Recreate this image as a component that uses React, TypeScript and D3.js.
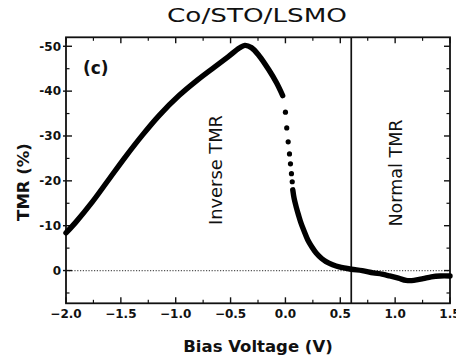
import React, { useEffect } from "react";
import * as d3 from "d3";

const W = 456;
const H = 364;

// Continuous (dense) part before the gap
const biasLeft = [-2.0, -1.91, -1.76, -1.61, -1.46, -1.3, -1.15, -0.97, -0.8, -0.65, -0.52, -0.42, -0.37, -0.31, -0.24, -0.15, -0.08, -0.025];
const tmrLeft = [-8.4, -10.8, -15.3, -20.3, -25.3, -30.3, -34.6, -39.0, -42.5, -45.3, -47.7, -49.6, -50.2, -49.7, -47.9, -44.7, -41.8, -39.0];

// Sparse individual points on the steep drop
const biasDots = [0.0, 0.012, 0.025, 0.037, 0.046, 0.055, 0.062];
const tmrDots = [-35.3, -31.8, -28.7, -26.0, -23.8, -21.6, -19.8];

// Continuous part after the drop
const biasRight = [0.067, 0.08, 0.098, 0.12, 0.143, 0.17, 0.204, 0.24, 0.28, 0.33, 0.37, 0.43, 0.49, 0.6, 0.7, 0.8, 0.88, 0.95, 1.03, 1.1, 1.17, 1.255, 1.33, 1.41, 1.5];
const tmrRight = [-18.0, -16.0, -14.2, -12.3, -10.5, -8.8, -6.8, -5.3, -3.9, -2.7, -2.0, -1.3, -0.8, -0.3, 0.0, 0.5, 0.8, 1.2, 1.7, 2.2, 2.2, 1.8, 1.4, 1.2, 1.2];

const xMajor = [-2.0, -1.5, -1.0, -0.5, 0.0, 0.5, 1.0, 1.5];
const xMinor = [-1.75, -1.25, -0.75, -0.25, 0.25, 0.75, 1.25];
const yMajor = [-50, -40, -30, -20, -10, 0];
const yMinor = [-45, -35, -25, -15, -5, 5];

const boundaryV = 0.6;

const title = "Co/STO/LSMO";
const xLabel = "Bias Voltage (V)";
const yLabel = "TMR (%)";
const panelLabel = "(c)";
const inverseLabel = "Inverse TMR";
const normalLabel = "Normal TMR";

const FONT = "'DejaVu Sans', Verdana, sans-serif";

export default function App() {
  useEffect(() => {
    document.body.style.margin = "0";
  }, []);

  const left = 66;
  const right = 450;
  const top = 37.3;
  const bottom = 303.3;

  const x = d3.scaleLinear().domain([-2.0, 1.5]).range([left, right]);
  const y = d3.scaleLinear().domain([7.3, -52]).range([bottom, top]);

  const line = d3
    .line<[number, number]>()
    .x((d) => x(d[0]))
    .y((d) => y(d[1]))
    .curve(d3.curveCatmullRom.alpha(0.5));

  const leftPts: [number, number][] = biasLeft.map((v, i) => [v, tmrLeft[i]]);
  const rightPts: [number, number][] = biasRight.map((v, i) => [v, tmrRight[i]]);

  const fmt = d3.format(".1f");

  return (
    <svg
      width={W}
      height={H}
      viewBox={`0 0 ${W} ${H}`}
      style={{ display: "block", position: "absolute", left: 0, top: 0, background: "#fff" }}
      fontFamily={FONT}
    >
      <rect x={0} y={0} width={W} height={H} fill="#fff" />
      {/* title */}
      <text x={257} y={22} textAnchor="middle" fontSize={19} textLength={180} lengthAdjust="spacingAndGlyphs" fill="#111">
        {title}
      </text>

      {/* zero dotted line */}
      <line x1={left} x2={right} y1={y(0)} y2={y(0)} stroke="#555" strokeWidth={1.2} strokeDasharray="1.2,1.6" />

      {/* boundary line */}
      <line x1={x(boundaryV)} x2={x(boundaryV)} y1={top} y2={bottom} stroke="#111" strokeWidth={1.7} />

      {/* ticks bottom/top */}
      {xMajor.map((v) => (
        <g key={"xM" + v}>
          <line x1={x(v)} x2={x(v)} y1={bottom} y2={bottom - 6} stroke="#111" strokeWidth={1.4} />
          <line x1={x(v)} x2={x(v)} y1={top} y2={top + 6} stroke="#111" strokeWidth={1.4} />
          <text x={x(v)} y={317.5} textAnchor="middle" fontSize={12} fontWeight="bold" fill="#111">
            {fmt(v)}
          </text>
        </g>
      ))}
      {xMinor.map((v) => (
        <g key={"xm" + v}>
          <line x1={x(v)} x2={x(v)} y1={bottom} y2={bottom - 3.5} stroke="#111" strokeWidth={1.2} />
          <line x1={x(v)} x2={x(v)} y1={top} y2={top + 3.5} stroke="#111" strokeWidth={1.2} />
        </g>
      ))}

      {/* ticks left/right */}
      {yMajor.map((v) => (
        <g key={"yM" + v}>
          <line x1={left - 3} x2={left + 6} y1={y(v)} y2={y(v)} stroke="#111" strokeWidth={1.4} />
          <line x1={right} x2={right - 6} y1={y(v)} y2={y(v)} stroke="#111" strokeWidth={1.4} />
          <text x={61} y={y(v) + 4.3} textAnchor="end" fontSize={12} fontWeight="bold" fill="#111">
            {String(v)}
          </text>
        </g>
      ))}
      {yMinor.map((v) => (
        <g key={"ym" + v}>
          <line x1={left} x2={left + 3.5} y1={y(v)} y2={y(v)} stroke="#111" strokeWidth={1.2} />
          <line x1={right} x2={right - 3.5} y1={y(v)} y2={y(v)} stroke="#111" strokeWidth={1.2} />
        </g>
      ))}

      {/* frame */}
      <rect x={left} y={top} width={right - left} height={bottom - top} fill="none" stroke="#111" strokeWidth={1.8} />

      {/* data */}
      <path d={line(leftPts) || ""} fill="none" stroke="#000" strokeWidth={5.4} strokeLinecap="round" strokeLinejoin="round" />
      <path d={line(rightPts) || ""} fill="none" stroke="#000" strokeWidth={5.4} strokeLinecap="round" strokeLinejoin="round" />
      {biasDots.map((v, i) => (
        <circle key={"d" + i} cx={x(v)} cy={y(tmrDots[i])} r={2.6} fill="#000" />
      ))}

      {/* annotations */}
      <text x={83} y={74} fontSize={17} fontWeight="bold" fill="#111">
        {panelLabel}
      </text>
      <text
        transform={`translate(221.5,225) rotate(-90)`}
        fontSize={17.5}
        textLength={110}
        lengthAdjust="spacingAndGlyphs"
        fill="#111"
      >
        {inverseLabel}
      </text>
      <text
        transform={`translate(401.5,226.5) rotate(-90)`}
        fontSize={17.5}
        textLength={107}
        lengthAdjust="spacingAndGlyphs"
        fill="#111"
      >
        {normalLabel}
      </text>

      {/* axis labels */}
      <text x={258} y={352} textAnchor="middle" fontSize={16.5} fontWeight="bold" fill="#111">
        {xLabel}
      </text>
      <text
        transform={`translate(29,182) rotate(-90)`}
        textAnchor="middle"
        fontSize={16.5}
        fontWeight="bold"
        fill="#111"
      >
        {yLabel}
      </text>
    </svg>
  );
}
